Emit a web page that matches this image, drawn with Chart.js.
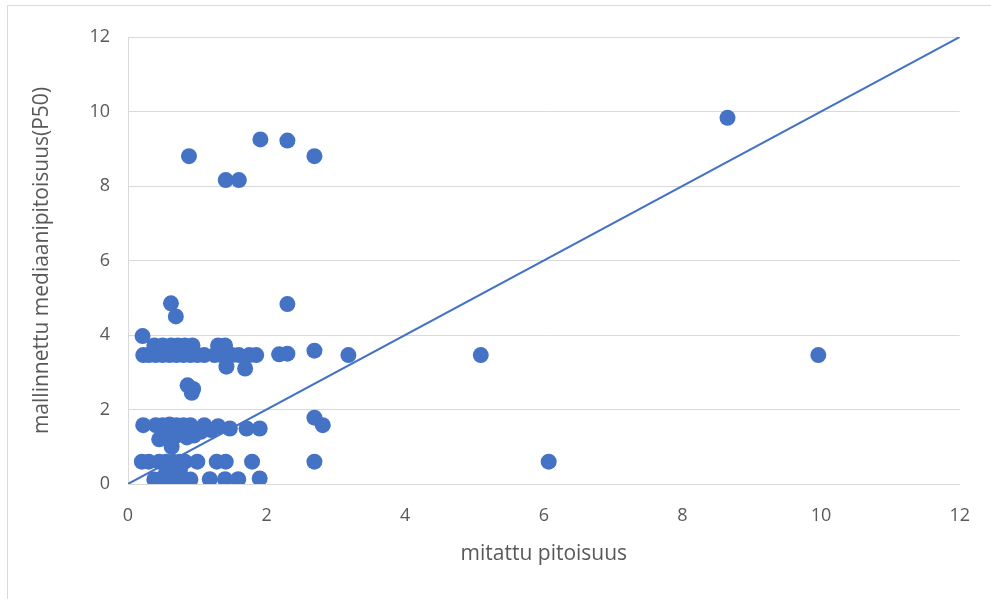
<!DOCTYPE html>
<html>
<head>
<meta charset="utf-8">
<script src="https://cdn.jsdelivr.net/npm/chart.js@4/dist/chart.umd.min.js"></script>
<style>
  html, body { margin: 0; padding: 0; background: #fff; }
  #wrap { position: relative; width: 991px; height: 599px; }
  #frame { position: absolute; left: 7px; top: 5px; width: 1000px; height: 700px; border: 1px solid #d9d9d9; pointer-events: none; }
</style>
</head>
<body>
<div id="wrap">
  <canvas id="scatterChart" width="991" height="599"></canvas>
  <div id="frame"></div>
</div>
<script>
// Datos: pitoisuus mitattu (x) vs mallinnettu mediaani (y)
const measured = [
  0.88, 1.41, 1.60, 1.91, 2.30, 2.69, 8.65,
  0.62, 0.69, 2.30, 0.21,
  0.22, 0.30, 0.40, 0.50, 0.60, 0.70, 0.80, 0.90, 1.00, 1.10, 1.25, 1.35, 1.50, 1.60, 1.75, 1.85,
  0.38, 0.50, 0.62, 0.72, 0.82, 0.93, 1.30, 1.40,
  1.42, 1.69, 2.18, 2.30, 2.69, 3.18, 5.09, 9.96,
  0.86, 0.94, 0.92,
  0.22, 0.40, 0.50, 0.60, 0.70, 0.80, 0.90, 1.10, 1.30, 1.47, 1.71, 1.90, 2.69, 2.81,
  0.45, 0.55, 0.70, 0.85, 0.95, 1.05, 1.20, 0.63,
  0.20, 0.30, 0.45, 0.55, 0.65, 0.75, 0.82, 1.00, 1.28, 1.41, 1.79, 2.69, 6.07, 0.75, 0.55,
  0.38, 0.45, 0.55, 0.62, 0.70, 0.80, 0.90, 1.18, 1.40, 1.59, 1.90
];
const modelled = [
  8.80, 8.16, 8.16, 9.25, 9.22, 8.80, 9.83,
  4.85, 4.50, 4.83, 3.97,
  3.46, 3.46, 3.46, 3.46, 3.46, 3.46, 3.46, 3.46, 3.46, 3.46, 3.46, 3.46, 3.46, 3.46, 3.46, 3.46,
  3.72, 3.72, 3.72, 3.72, 3.72, 3.72, 3.72, 3.72,
  3.15, 3.10, 3.48, 3.50, 3.58, 3.46, 3.46, 3.46,
  2.65, 2.55, 2.45,
  1.58, 1.58, 1.58, 1.60, 1.58, 1.58, 1.58, 1.58, 1.55, 1.49, 1.49, 1.49, 1.78, 1.58,
  1.20, 1.35, 1.30, 1.25, 1.30, 1.40, 1.45, 1.00,
  0.60, 0.60, 0.60, 0.60, 0.60, 0.60, 0.60, 0.60, 0.60, 0.60, 0.60, 0.60, 0.60, 0.38, 0.30,
  0.12, 0.12, 0.12, 0.12, 0.12, 0.12, 0.12, 0.13, 0.13, 0.13, 0.15
];
const refLine = [0, 12];
const axisTicks = [0, 2, 4, 6, 8, 10, 12];

const points = measured.map((x, i) => ({ x: x, y: modelled[i] }));
const blue = "#4472C4";
const tickColor = "#595959";

const ctx = document.getElementById("scatterChart").getContext("2d");
const chart = new Chart(ctx, {
  type: "scatter",
  data: {
    datasets: [
      {
        label: "y = x",
        type: "line",
        data: refLine.map((v) => ({ x: v, y: v })),
        borderColor: blue,
        borderWidth: 2,
        pointRadius: 0,
        fill: false,
      },
      {
        label: "P50",
        data: points,
        backgroundColor: blue,
        borderColor: blue,
        pointRadius: 8,
        pointBorderWidth: 0,
      },
    ],
  },
  options: {
    responsive: false,
    animation: false,
    layout: { padding: { top: 37, right: 29, left: 25, bottom: 30 } },
    plugins: { legend: { display: false }, tooltip: { enabled: false } },
    scales: {
      x: {
        type: "linear",
        min: 0,
        max: 12,
        afterBuildTicks: (s) => { s.ticks = axisTicks.map((v) => ({ value: v })); },
        afterFit: (s) => { s.height = 85; },
        grid: { display: false, drawTicks: false },
        border: { display: true, color: "#d9d9d9", width: 1 },
        ticks: { color: tickColor, font: { family: "Open Sans", size: 18 }, padding: 21 },
        title: {
          display: true,
          text: "mitattu pitoisuus",
          color: tickColor,
          font: { family: "Open Sans", size: 21 },
          padding: { top: 4, bottom: 2 },
        },
      },
      y: {
        type: "linear",
        min: 0,
        max: 12,
        afterBuildTicks: (s) => { s.ticks = axisTicks.map((v) => ({ value: v })); },
        afterFit: (s) => { s.width = 103; },
        grid: { color: "#d9d9d9", lineWidth: 1, drawTicks: false },
        border: { display: true, color: "#d9d9d9", width: 1 },
        ticks: { color: tickColor, font: { family: "Open Sans", size: 18 }, padding: 18 },
        title: {
          display: true,
          text: "mallinnettu mediaanipitoisuus(P50)",
          color: tickColor,
          font: { family: "Open Sans", size: 21 },
        },
      },
    },
  },
});
</script>
</body>
</html>
